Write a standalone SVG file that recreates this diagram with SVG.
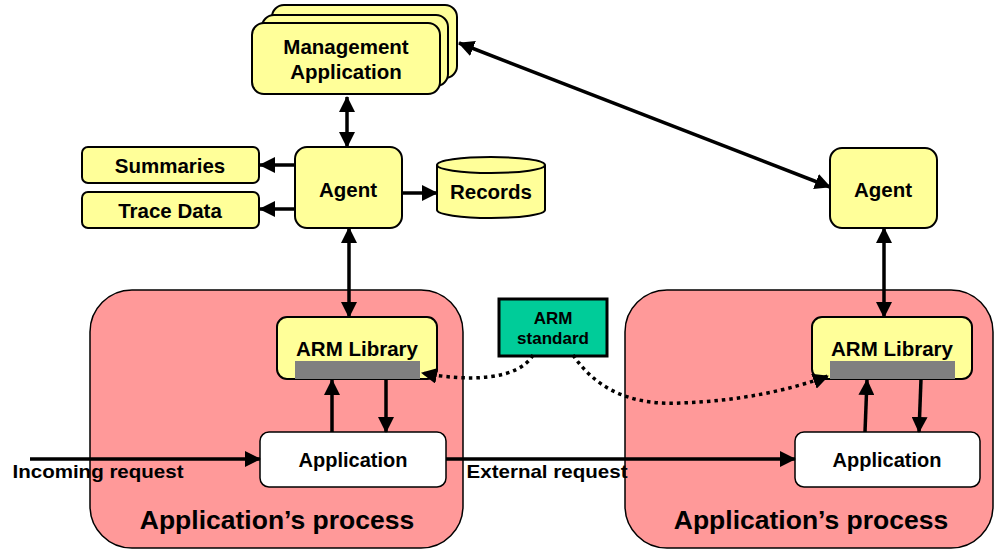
<svg xmlns="http://www.w3.org/2000/svg" width="995" height="550" viewBox="0 0 995 550">
<defs>
<style>
.t{font-family:"Liberation Sans",Arial,sans-serif;font-weight:bold;fill:#000;text-anchor:middle}
.y{fill:#FFFF99;stroke:#000;stroke-width:2}
.p{fill:#FF9999;stroke:#000;stroke-width:1.5}
.w{fill:#fff;stroke:#000;stroke-width:1.5}
.c{fill:none;stroke:#000;stroke-width:3.5}
.d{fill:none;stroke:#000;stroke-width:3.5;stroke-dasharray:3.5 4}
</style>
<marker id="ah" viewBox="0 0 16 16" refX="15" refY="8" markerWidth="16" markerHeight="16" orient="auto-start-reverse" markerUnits="userSpaceOnUse">
<path d="M0,0 L16,8 L0,16 z" fill="#000"/>
</marker>
</defs>
<rect width="995" height="550" fill="#fff"/>

<g id="process-left">
<rect class="p" x="90" y="290" width="373" height="258" rx="42"/>
<text class="t" x="277" y="529" font-size="26.5">Application’s process</text>
</g>
<g id="process-right">
<rect class="p" x="625" y="290" width="368" height="258" rx="42"/>
<text class="t" x="811" y="529" font-size="26.5">Application’s process</text>
</g>

<g id="mgmt">
<rect class="y" x="272" y="5" width="185" height="73" rx="12"/>
<rect class="y" x="262" y="15" width="186" height="71" rx="12"/>
<rect class="y" x="252" y="23" width="188" height="71" rx="12"/>
<text class="t" x="346" y="54" font-size="20.5">Management</text>
<text class="t" x="346" y="79" font-size="20.5">Application</text>
</g>

<g id="agent-left">
<rect class="y" x="295" y="147" width="107" height="81" rx="12"/>
<text class="t" x="348" y="197" font-size="20.5">Agent</text>
</g>
<g id="summaries">
<rect class="y" x="82" y="147" width="177" height="36" rx="6"/>
<text class="t" x="170" y="173" font-size="20.5">Summaries</text>
</g>
<g id="trace">
<rect class="y" x="82" y="192" width="177" height="36" rx="6"/>
<text class="t" x="170" y="218" font-size="20.5">Trace Data</text>
</g>
<g id="records">
<path class="y" d="M437,165 A54,8 0 0 1 545,165 L545,210 A54,8 0 0 1 437,210 Z"/>
<path fill="none" stroke="#000" stroke-width="2" d="M437,165 A54,8 0 0 0 545,165"/>
<text class="t" x="491" y="199" font-size="20.5">Records</text>
</g>

<g id="agent-right">
<rect class="y" x="830" y="148" width="107" height="80" rx="12"/>
<text class="t" x="883" y="197" font-size="20.5">Agent</text>
</g>

<g id="arm-left">
<rect class="y" x="277" y="317" width="160" height="62" rx="10"/>
<rect x="295" y="361" width="125" height="18" fill="#808080"/>
<text class="t" x="357" y="356" font-size="20.5">ARM Library</text>
</g>
<g id="arm-right">
<rect class="y" x="812" y="317" width="160" height="62" rx="10"/>
<rect x="830" y="361" width="125" height="18" fill="#808080"/>
<text class="t" x="892" y="356" font-size="20.5">ARM Library</text>
</g>

<g id="app-left">
<rect class="w" x="260" y="432" width="186" height="55" rx="9"/>
<text class="t" x="353" y="467" font-size="20">Application</text>
</g>
<g id="app-right">
<rect class="w" x="795" y="432" width="185" height="55" rx="9"/>
<text class="t" x="887" y="467" font-size="20">Application</text>
</g>

<g id="arm-standard">
<rect x="499" y="299" width="108" height="57" fill="#00CC99" stroke="#000" stroke-width="3"/>
<text class="t" x="553" y="324" font-size="17">ARM</text>
<text class="t" x="553" y="344" font-size="17">standard</text>
</g>

<g id="connectors">
<line class="c" x1="347" y1="97" x2="347" y2="147" marker-start="url(#ah)" marker-end="url(#ah)"/>
<line class="c" x1="459" y1="43" x2="830" y2="187" marker-start="url(#ah)" marker-end="url(#ah)"/>
<line class="c" x1="295" y1="165" x2="260" y2="165" marker-end="url(#ah)"/>
<line class="c" x1="295" y1="209" x2="260" y2="209" marker-end="url(#ah)"/>
<line class="c" x1="402" y1="193" x2="437" y2="193" marker-end="url(#ah)"/>
<line class="c" x1="349" y1="228" x2="349" y2="317" marker-start="url(#ah)" marker-end="url(#ah)"/>
<line class="c" x1="884" y1="228" x2="884" y2="317" marker-start="url(#ah)" marker-end="url(#ah)"/>
<line class="c" x1="332" y1="432" x2="332" y2="380" marker-end="url(#ah)"/>
<line class="c" x1="386" y1="379" x2="386" y2="432" marker-end="url(#ah)"/>
<line class="c" x1="865" y1="432" x2="867" y2="380" marker-end="url(#ah)"/>
<line class="c" x1="921" y1="379" x2="919" y2="432" marker-end="url(#ah)"/>
<line class="c" x1="30" y1="459" x2="260" y2="459" marker-end="url(#ah)"/>
<line class="c" x1="446" y1="459" x2="795" y2="459" marker-end="url(#ah)"/>
<path class="d" d="M533,355 C518,380 470,382 422,373" marker-end="url(#ah)"/>
<path class="d" d="M573,355 C600,395 640,405 680,403 C740,401 790,390 828,376" marker-end="url(#ah)"/>
</g>

<text class="t" x="98" y="478" font-size="19" textLength="171" lengthAdjust="spacingAndGlyphs">Incoming request</text>
<text class="t" x="547" y="478" font-size="19" textLength="161" lengthAdjust="spacingAndGlyphs">External request</text>
</svg>
